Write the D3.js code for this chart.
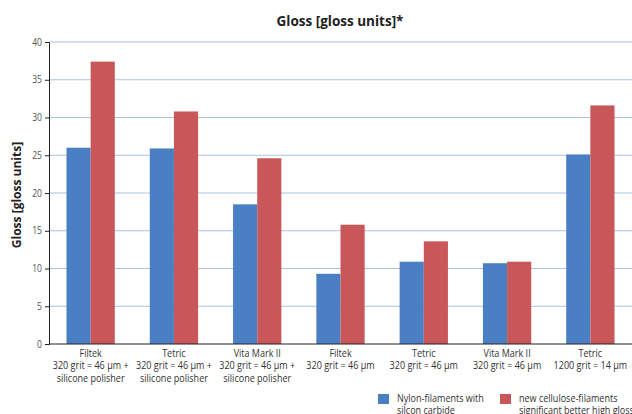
<!DOCTYPE html>
<html><head><meta charset="utf-8">
<script src="https://cdn.jsdelivr.net/npm/d3@7"></script>
<style>body{margin:0;background:#fff}svg{display:block}text{font-family:"Open Sans",sans-serif}</style>
</head><body>
<script>
const categories = [
  ["Filtek","320 grit = 46 µm +","silicone polisher"],
  ["Tetric","320 grit = 46 µm +","silicone polisher"],
  ["Vita Mark II","320 grit = 46 µm +","silicone polisher"],
  ["Filtek","320 grit = 46 µm"],
  ["Tetric","320 grit = 46 µm"],
  ["Vita Mark II","320 grit = 46 µm"],
  ["Tetric","1200 grit = 14 µm"]
];
const nylon = [26.0, 25.9, 18.5, 9.3, 10.9, 10.7, 25.1];
const cellulose = [37.4, 30.8, 24.6, 15.8, 13.6, 10.9, 31.6];
const seriesNames = [["Nylon-filaments with","silcon carbide"],["new cellulose-filaments","significant better high gloss"]];
const yTicks = [0,5,10,15,20,25,30,35,40];
const colors = ["#4a80c3","#c9575a"];

const W=632,H=414, SX=0.86;
const svg=d3.select("body").append("svg").attr("width",W).attr("height",H);
const x=d3.scaleBand().domain(d3.range(categories.length)).range([49,632]).paddingInner(0.42).paddingOuter(0.21);
const xs=d3.scaleBand().domain([0,1]).range([0,x.bandwidth()]);
const y=d3.scaleLinear().domain([0,40]).range([344,42]);

svg.append("g").selectAll("line").data(yTicks.filter(d=>d>0)).join("line")
  .attr("x1",49).attr("x2",632).attr("y1",d=>y(d)).attr("y2",d=>y(d))
  .attr("stroke","#a9c3e3").attr("stroke-width",1.2);

const series=[nylon,cellulose];
series.forEach((vals,si)=>{
  svg.append("g").selectAll("rect").data(vals).join("rect")
    .attr("x",(d,i)=>x(i)+xs(si)).attr("width",xs.bandwidth())
    .attr("y",d=>y(d)).attr("height",d=>y(0)-y(d)).attr("fill",colors[si]);
});

const ya=svg.append("g").attr("transform","translate(49,0)").call(d3.axisLeft(y).tickValues(yTicks).tickSize(4).tickPadding(3));
ya.select(".domain").attr("stroke","#222");
ya.selectAll(".tick line").attr("stroke","#222");
ya.selectAll("text").attr("font-size",10).attr("fill","#555").style("font-family",null)
  .attr("transform","scale("+SX+",1)").attr("x",-7/SX);

svg.append("line").attr("x1",49).attr("x2",632).attr("y1",y(0)).attr("y2",y(0)).attr("stroke","#222").attr("stroke-width",1.2);

const cl=svg.append("g");
categories.forEach((lines,i)=>{
  const g=cl.append("g").attr("transform","translate("+(x(i)+x.bandwidth()/2)+",0) scale("+SX+",1)");
  const t=g.append("text").attr("text-anchor","middle").attr("font-size",10.5).attr("fill","#333");
  lines.forEach((l,j)=>t.append("tspan").attr("x",0).attr("y",357+j*12.3).text(l));
});

svg.append("text").attr("x",340).attr("y",26).attr("text-anchor","middle").attr("font-size",13.5).attr("font-weight","bold").attr("fill","#222").text("Gloss [gloss units]*");
svg.append("text").attr("transform","translate(21,195) rotate(-90)").attr("text-anchor","middle").attr("font-size",12).attr("font-weight","bold").attr("fill","#222").text("Gloss [gloss units]");

const lg=svg.append("g");
[378,500].forEach((lx,si)=>{
  lg.append("rect").attr("x",lx).attr("y",394).attr("width",11).attr("height",10).attr("fill",colors[si]);
  const g=lg.append("g").attr("transform","translate("+(lx+19)+",0) scale("+SX+",1)");
  const t=g.append("text").attr("font-size",10.5).attr("fill","#333");
  seriesNames[si].forEach((l,j)=>t.append("tspan").attr("x",0).attr("y",402+j*12).text(l));
});
</script>
</body></html>
